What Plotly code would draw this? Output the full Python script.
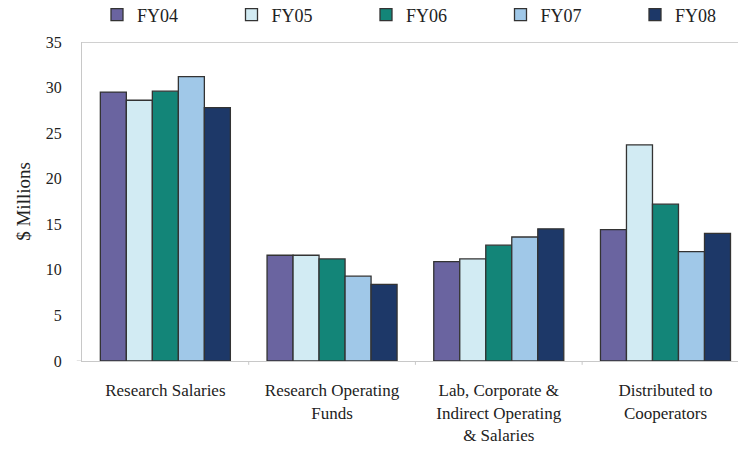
import plotly.graph_objects as go

categories = ["Research Salaries", "Research Operating<br>Funds",
              "Lab, Corporate &amp;<br>Indirect Operating<br>&amp; Salaries",
              "Distributed to<br>Cooperators"]
series_names = ["FY04", "FY05", "FY06", "FY07", "FY08"]
fy04 = [29.5, 11.6, 10.9, 14.4]
fy05 = [28.6, 11.6, 11.2, 23.7]
fy06 = [29.6, 11.2, 12.7, 17.2]
fy07 = [31.2, 9.3, 13.6, 12.0]
fy08 = [27.8, 8.4, 14.5, 14.0]
colors = ["#6a64a0", "#d2ebf3", "#138578", "#a0c8e8", "#1d3868"]
y_ticks = [0, 5, 10, 15, 20, 25, 30, 35]

FONT = "Liberation Serif"
fig = go.Figure()
legend_ids = ["legend", "legend2", "legend3", "legend4", "legend5"]
for name, vals, col, lid in zip(series_names, [fy04, fy05, fy06, fy07, fy08], colors, legend_ids):
    fig.add_trace(go.Bar(
        name=name, x=list(range(len(categories))), y=vals,
        marker=dict(color=col, line=dict(color="#333333", width=1.3)),
        legend=lid,
    ))

legends = {}
for i, lid in enumerate(legend_ids):
    legends[lid] = dict(orientation="h", xref="container", yref="container",
                        x=(97 + i * 134.5) / 738, y=1 - 15 / 453,
                        xanchor="left", yanchor="middle",
                        font=dict(family=FONT, size=18, color="#222"),
                        itemwidth=30, bgcolor="rgba(0,0,0,0)")

fig.update_layout(
    width=738, height=453,
    margin=dict(l=82, r=0, t=37, b=92),
    paper_bgcolor="white", plot_bgcolor="white",
    barmode="group", bargap=0.22, bargroupgap=0,
    font=dict(family=FONT, size=15, color="#222"),
    showlegend=True,
    xaxis=dict(range=[-0.5, 3.435], tickmode="array",
               tickvals=list(range(len(categories))), ticktext=categories,
               showline=True, linecolor="#c8c8c8", linewidth=1,
               showgrid=False, ticks="outside", ticklen=14, tickcolor="rgba(0,0,0,0)",
               zeroline=False,
               tickfont=dict(family=FONT, size=17, color="#222")),
    yaxis=dict(range=[0, 35], tickvals=y_ticks, showgrid=False, zeroline=False,
               showline=True, linecolor="#c8c8c8", linewidth=1,
               ticks="outside", ticklen=16, tickcolor="rgba(0,0,0,0)",
               tickfont=dict(family=FONT, size=16, color="#222"),
               title=dict(text="$ Millions", standoff=10,
                          font=dict(family=FONT, size=19, color="#222"))),
    shapes=[dict(type="line", xref="paper", yref="y", x0=0, x1=1, y0=35, y1=35,
                 line=dict(color="#d0d0d0", width=2)),
            dict(type="line", xref="paper", yref="y", x0=-0.008, x1=0, y0=0, y1=0,
                 line=dict(color="#c8c8c8", width=1))],
    **legends,
)
for i in range(1, len(categories)):
    fig.add_shape(type="line", xref="x", yref="paper", x0=i - 0.5, x1=i - 0.5,
                  y0=0, y1=-0.012, line=dict(color="#c8c8c8", width=1))

fig.write_html("out.html")
